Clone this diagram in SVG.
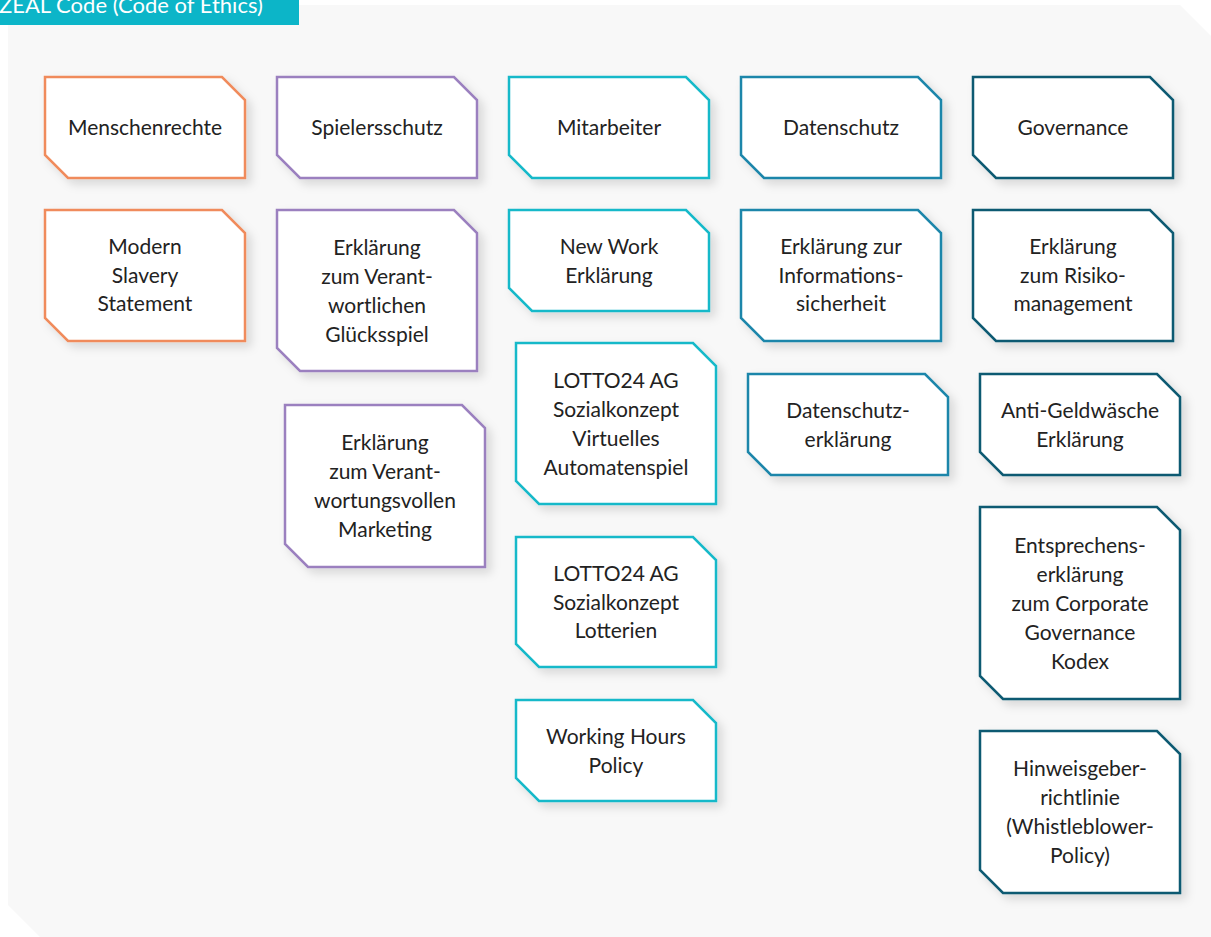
<svg xmlns="http://www.w3.org/2000/svg" width="1211" height="937" viewBox="0 0 1211 937">
  <defs>
    <filter id="shadow" x="-20%" y="-20%" width="150%" height="150%">
      <feDropShadow dx="5" dy="5" stdDeviation="5" flood-color="#000" flood-opacity="0.13"/>
    </filter>
    <style>
      .box { fill: #ffffff; stroke-width: 2.5; stroke-linejoin: miter; filter: url(#shadow); }
      .orange { stroke: #f08b5c; }
      .purple { stroke: #9b80bf; }
      .teal { stroke: #19b9c9; }
      .blue { stroke: #1a86aa; }
      .dark { stroke: #0d5a72; }
      .label { font-family: Lato, "Open Sans", "Liberation Sans", sans-serif; font-size: 21px; fill: #222222; text-anchor: middle; }
      .title { font-family: Lato, "Open Sans", "Liberation Sans", sans-serif; font-size: 22px; fill: #ffffff; }
    </style>
  </defs>

  <!-- panel background with clipped corners -->
  <polygon points="8,5 1180,5 1211,36 1211,937 40,937 8,905" fill="#f8f8f8"/>

  <!-- title tab -->
  <g id="title">
    <rect x="0" y="0" width="299" height="25" fill="#0cb5c8"/>
    <text class="title" x="-1" y="13">ZEAL Code (Code of Ethics)</text>
  </g>

  <g id="connectors"></g>

  <!-- column: Menschenrechte -->
  <g id="menschenrechte">
    <path class="box orange" d="M45,77 H222 L245,100 V178 H68 L45,155 Z"/>
    <text class="label" x="145" y="135">Menschenrechte</text>
  </g>
  <g id="modern-slavery">
    <path class="box orange" d="M45,210 H222 L245,233 V341 H68 L45,318 Z"/>
    <text class="label" x="145" y="254">Modern</text>
    <text class="label" x="145" y="282.5">Slavery</text>
    <text class="label" x="145" y="311">Statement</text>
  </g>

  <!-- column: Spielerschutz -->
  <g id="spielerschutz">
    <path class="box purple" d="M277,77 H454 L477,100 V178 H300 L277,155 Z"/>
    <text class="label" x="377" y="135">Spielersschutz</text>
  </g>
  <g id="verantwortliches-gluecksspiel">
    <path class="box purple" d="M277,210 H454 L477,233 V371 H300 L277,348 Z"/>
    <text class="label" x="377" y="255">Erklärung</text>
    <text class="label" x="377" y="284">zum Verant-</text>
    <text class="label" x="377" y="313">wortlichen</text>
    <text class="label" x="377" y="342">Glücksspiel</text>
  </g>
  <g id="verantwortungsvolles-marketing">
    <path class="box purple" d="M285,405 H462 L485,428 V567 H308 L285,544 Z"/>
    <text class="label" x="385" y="450">Erklärung</text>
    <text class="label" x="385" y="479">zum Verant-</text>
    <text class="label" x="385" y="508">wortungsvollen</text>
    <text class="label" x="385" y="537">Marketing</text>
  </g>

  <!-- column: Mitarbeiter -->
  <g id="mitarbeiter">
    <path class="box teal" d="M509,77 H686 L709,100 V178 H532 L509,155 Z"/>
    <text class="label" x="609" y="135">Mitarbeiter</text>
  </g>
  <g id="new-work">
    <path class="box teal" d="M509,210 H686 L709,233 V311 H532 L509,288 Z"/>
    <text class="label" x="609" y="254">New Work</text>
    <text class="label" x="609" y="283">Erklärung</text>
  </g>
  <g id="sozialkonzept-automatenspiel">
    <path class="box teal" d="M516,343 H693 L716,366 V504 H539 L516,481 Z"/>
    <text class="label" x="616" y="388">LOTTO24 AG</text>
    <text class="label" x="616" y="417">Sozialkonzept</text>
    <text class="label" x="616" y="446">Virtuelles</text>
    <text class="label" x="616" y="475">Automatenspiel</text>
  </g>
  <g id="sozialkonzept-lotterien">
    <path class="box teal" d="M516,537 H693 L716,560 V667 H539 L516,644 Z"/>
    <text class="label" x="616" y="581">LOTTO24 AG</text>
    <text class="label" x="616" y="609.5">Sozialkonzept</text>
    <text class="label" x="616" y="638">Lotterien</text>
  </g>
  <g id="working-hours">
    <path class="box teal" d="M516,700 H693 L716,723 V801 H539 L516,778 Z"/>
    <text class="label" x="616" y="744">Working Hours</text>
    <text class="label" x="616" y="773">Policy</text>
  </g>

  <!-- column: Datenschutz -->
  <g id="datenschutz">
    <path class="box blue" d="M741,77 H918 L941,100 V178 H764 L741,155 Z"/>
    <text class="label" x="841" y="135">Datenschutz</text>
  </g>
  <g id="informationssicherheit">
    <path class="box blue" d="M741,210 H918 L941,233 V341 H764 L741,318 Z"/>
    <text class="label" x="841" y="254">Erklärung zur</text>
    <text class="label" x="841" y="282.5">Informations-</text>
    <text class="label" x="841" y="311">sicherheit</text>
  </g>
  <g id="datenschutzerklaerung">
    <path class="box blue" d="M748,374 H925 L948,397 V475 H771 L748,452 Z"/>
    <text class="label" x="848" y="418">Datenschutz-</text>
    <text class="label" x="848" y="447">erklärung</text>
  </g>

  <!-- column: Governance -->
  <g id="governance">
    <path class="box dark" d="M973,77 H1150 L1173,100 V178 H996 L973,155 Z"/>
    <text class="label" x="1073" y="135">Governance</text>
  </g>
  <g id="risikomanagement">
    <path class="box dark" d="M973,210 H1150 L1173,233 V341 H996 L973,318 Z"/>
    <text class="label" x="1073" y="254">Erklärung</text>
    <text class="label" x="1073" y="282.5">zum Risiko-</text>
    <text class="label" x="1073" y="311">management</text>
  </g>
  <g id="anti-geldwaesche">
    <path class="box dark" d="M980,374 H1157 L1180,397 V475 H1003 L980,452 Z"/>
    <text class="label" x="1080" y="418">Anti-Geldwäsche</text>
    <text class="label" x="1080" y="447">Erklärung</text>
  </g>
  <g id="entsprechenserklaerung">
    <path class="box dark" d="M980,507 H1157 L1180,530 V699 H1003 L980,676 Z"/>
    <text class="label" x="1080" y="553">Entsprechens-</text>
    <text class="label" x="1080" y="582">erklärung</text>
    <text class="label" x="1080" y="611">zum Corporate</text>
    <text class="label" x="1080" y="640">Governance</text>
    <text class="label" x="1080" y="669">Kodex</text>
  </g>
  <g id="hinweisgeberrichtlinie">
    <path class="box dark" d="M980,731 H1157 L1180,754 V893 H1003 L980,870 Z"/>
    <text class="label" x="1080" y="776">Hinweisgeber-</text>
    <text class="label" x="1080" y="805">richtlinie</text>
    <text class="label" x="1080" y="834">(Whistleblower-</text>
    <text class="label" x="1080" y="863">Policy)</text>
  </g>
</svg>
